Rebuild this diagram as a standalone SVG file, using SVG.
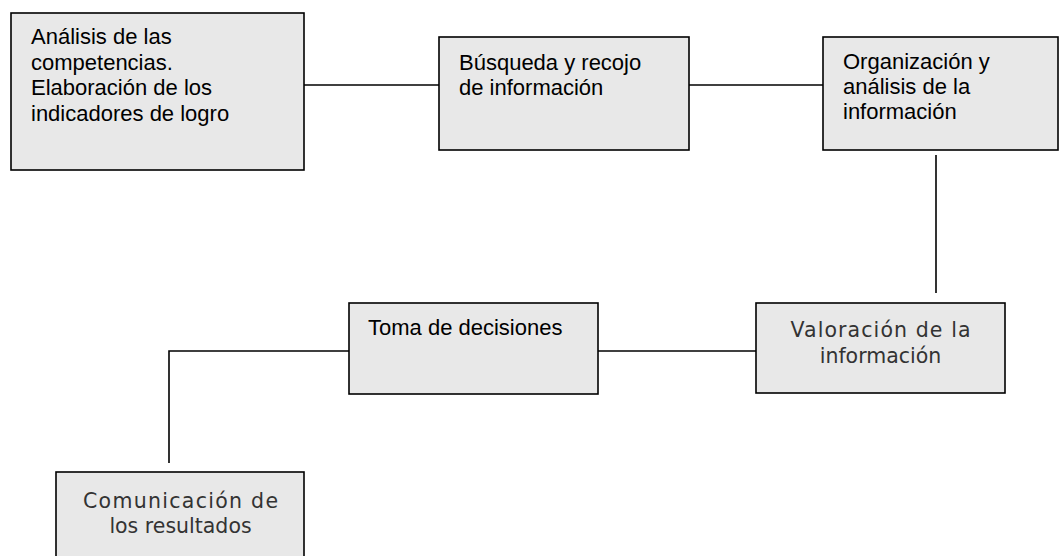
<svg xmlns="http://www.w3.org/2000/svg" width="1059" height="556" viewBox="0 0 1059 556">
<style>
.box{fill:#e8e8e8;stroke:#000;stroke-width:1.6}
.a{font-family:"Liberation Sans",Arial,sans-serif;font-size:22px;fill:#000}
.g{font-family:"DejaVu Sans",sans-serif;font-size:20.5px;fill:#333;text-anchor:middle}
.c{fill:none;stroke:#000;stroke-width:1.6}
</style>
<rect width="1059" height="556" fill="#fff"/>
<g id="connectors">
<line class="c" x1="304" y1="85" x2="439" y2="85"/>
<line class="c" x1="689" y1="85" x2="823" y2="85"/>
<line class="c" x1="936" y1="155" x2="936" y2="293"/>
<line class="c" x1="598" y1="351" x2="756" y2="351"/>
<polyline class="c" points="349,351 169,351 169,463"/>
</g>
<g id="n1">
<rect class="box" x="11" y="13" width="293" height="157"/>
<text class="a"><tspan x="31" y="44">Análisis de las</tspan><tspan x="31" y="69.5">competencias.</tspan><tspan x="31" y="95">Elaboración de los</tspan><tspan x="31" y="120.5">indicadores de logro</tspan></text>
</g>
<g id="n2">
<rect class="box" x="439" y="37" width="250" height="113"/>
<text class="a"><tspan x="459" y="70">Búsqueda y recojo</tspan><tspan x="459" y="95">de información</tspan></text>
</g>
<g id="n3">
<rect class="box" x="823" y="37" width="235" height="113"/>
<text class="a"><tspan x="843" y="69">Organización y</tspan><tspan x="843" y="94">análisis de la</tspan><tspan x="843" y="119">información</tspan></text>
</g>
<g id="n4">
<rect class="box" x="756" y="303" width="249" height="90"/>
<text class="g"><tspan x="880.5" y="337" textLength="180" lengthAdjust="spacing">Valoración de la</tspan><tspan x="880.5" y="363">información</tspan></text>
</g>
<g id="n5">
<rect class="box" x="349" y="303" width="249" height="91"/>
<text class="a"><tspan x="368" y="335">Toma de decisiones</tspan></text>
</g>
<g id="n6">
<rect class="box" x="56" y="472" width="248" height="100"/>
<text class="g"><tspan x="180.5" y="508" textLength="195" lengthAdjust="spacing">Comunicación de</tspan><tspan x="180.5" y="533">los resultados</tspan></text>
</g>
</svg>
